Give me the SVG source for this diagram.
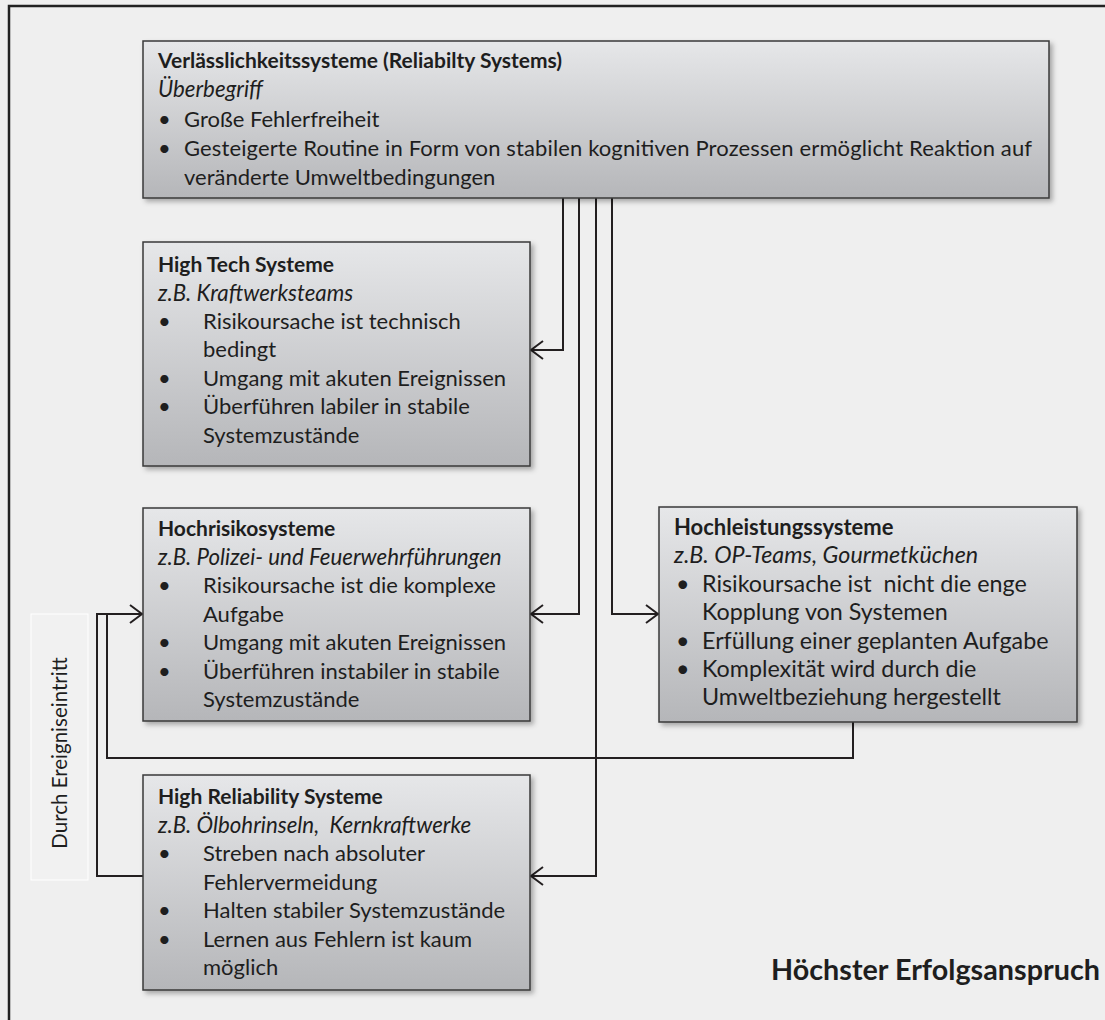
<svg xmlns="http://www.w3.org/2000/svg" width="1105" height="1020" viewBox="0 0 1105 1020">
<defs>
<linearGradient id="g" x1="0" y1="0" x2="0" y2="1">
<stop offset="0" stop-color="#e6e7e9"/>
<stop offset="1" stop-color="#b5b6b9"/>
</linearGradient>
<filter id="sh" x="-5%" y="-5%" width="115%" height="120%">
<feDropShadow dx="3" dy="3" stdDeviation="2.5" flood-color="#000" flood-opacity="0.3"/>
</filter>
<marker id="arr" markerUnits="userSpaceOnUse" markerWidth="20" markerHeight="24" refX="14" refY="12" orient="auto">
<path d="M2,3 L14,12 L2,21" fill="none" stroke="#231f20" stroke-width="2"/>
</marker>
<style>
.box{fill:url(#g);stroke:#3a3a3a;stroke-width:1.5;filter:url(#sh)}
text{font-family:Lato,"Liberation Sans",sans-serif;font-size:22px;fill:#1e1e1e;white-space:pre}
.b{font-weight:bold;font-size:21px}
.i{font-style:italic;font-size:22.3px}
.hl text{font-size:23.3px}
.hl text.b{font-size:22px}
.c{fill:none;stroke:#231f20;stroke-width:2}
</style>
</defs>
<rect x="0" y="0" width="1105" height="1020" fill="#efefef"/>
<rect x="9" y="6" width="1200" height="1100" fill="#efefef" stroke="#222" stroke-width="2.5"/>

<g id="connectors">
<path class="c" d="M563,198 V350 H531" marker-end="url(#arr)"/>
<path class="c" d="M579,198 V614 H531" marker-end="url(#arr)"/>
<path class="c" d="M596,198 V876 H531" marker-end="url(#arr)"/>
<path class="c" d="M612,198 V614 H658" marker-end="url(#arr)"/>
<path class="c" d="M853,722 V758 H107 V614"/>
<path class="c" d="M143,876 H97 V614 H142" marker-end="url(#arr)"/>
</g>

<g id="label-ereignis">
<rect x="31" y="614" width="57" height="266" fill="#f1f1f1" stroke="#ffffff" stroke-width="1"/>
<text x="0" y="0" transform="translate(67,753) rotate(-90)" text-anchor="middle" style="font-size:20.5px">Durch Ereigniseintritt</text>
</g>

<g id="node-verlaesslichkeit">
<rect class="box" x="143" y="41" width="906" height="157"/>
<text x="158" y="68" class="b">Verlässlichkeitssysteme (Reliabilty Systems)</text>
<text x="158" y="97" class="i">Überbegriff</text>
<text x="158" y="127">•</text><text x="184" y="127">Große Fehlerfreiheit</text>
<text x="158" y="156">•</text><text x="184" y="156" textLength="848" lengthAdjust="spacing">Gesteigerte Routine in Form von stabilen kognitiven Prozessen ermöglicht Reaktion auf</text>
<text x="184" y="185">veränderte Umweltbedingungen</text>
</g>

<g id="node-hightech">
<rect class="box" x="143" y="242" width="387" height="224"/>
<text x="158" y="272" class="b">High Tech Systeme</text>
<text x="158" y="301" class="i">z.B. Kraftwerksteams</text>
<text x="158" y="329">•</text><text x="203" y="329">Risikoursache ist technisch</text>
<text x="203" y="357">bedingt</text>
<text x="158" y="386">•</text><text x="203" y="386">Umgang mit akuten Ereignissen</text>
<text x="158" y="414">•</text><text x="203" y="414">Überführen labiler in stabile</text>
<text x="203" y="443">Systemzustände</text>
</g>

<g id="node-hochrisiko">
<rect class="box" x="143" y="508" width="387" height="213"/>
<text x="158" y="536" class="b">Hochrisikosysteme</text>
<text x="158" y="565" class="i">z.B. Polizei- und Feuerwehrführungen</text>
<text x="158" y="593">•</text><text x="203" y="593">Risikoursache ist die komplexe</text>
<text x="203" y="622">Aufgabe</text>
<text x="158" y="650">•</text><text x="203" y="650">Umgang mit akuten Ereignissen</text>
<text x="158" y="679">•</text><text x="203" y="679">Überführen instabiler in stabile</text>
<text x="203" y="707">Systemzustände</text>
</g>

<g id="node-hochleistung" class="hl">
<rect class="box" x="659" y="507" width="418" height="215"/>
<text x="674" y="535" class="b">Hochleistungssysteme</text>
<text x="674" y="563" class="i">z.B. OP-Teams, Gourmetküchen</text>
<text x="676" y="592">•</text><text x="702" y="592">Risikoursache ist  nicht die enge</text>
<text x="702" y="620">Kopplung von Systemen</text>
<text x="676" y="649">•</text><text x="702" y="649">Erfüllung einer geplanten Aufgabe</text>
<text x="676" y="677">•</text><text x="702" y="677">Komplexität wird durch die</text>
<text x="702" y="705">Umweltbeziehung hergestellt</text>
</g>

<g id="node-highreliability">
<rect class="box" x="143" y="775" width="387" height="215"/>
<text x="158" y="804" class="b">High Reliability Systeme</text>
<text x="158" y="833" class="i">z.B. Ölbohrinseln,  Kernkraftwerke</text>
<text x="158" y="861">•</text><text x="203" y="861">Streben nach absoluter</text>
<text x="203" y="890">Fehlervermeidung</text>
<text x="158" y="918">•</text><text x="203" y="918">Halten stabiler Systemzustände</text>
<text x="158" y="947">•</text><text x="203" y="947">Lernen aus Fehlern ist kaum</text>
<text x="203" y="975">möglich</text>
</g>

<g id="caption">
<text x="771" y="980" class="b" style="font-size:28px" textLength="329" lengthAdjust="spacingAndGlyphs">Höchster Erfolgsanspruch</text>
</g>
</svg>
